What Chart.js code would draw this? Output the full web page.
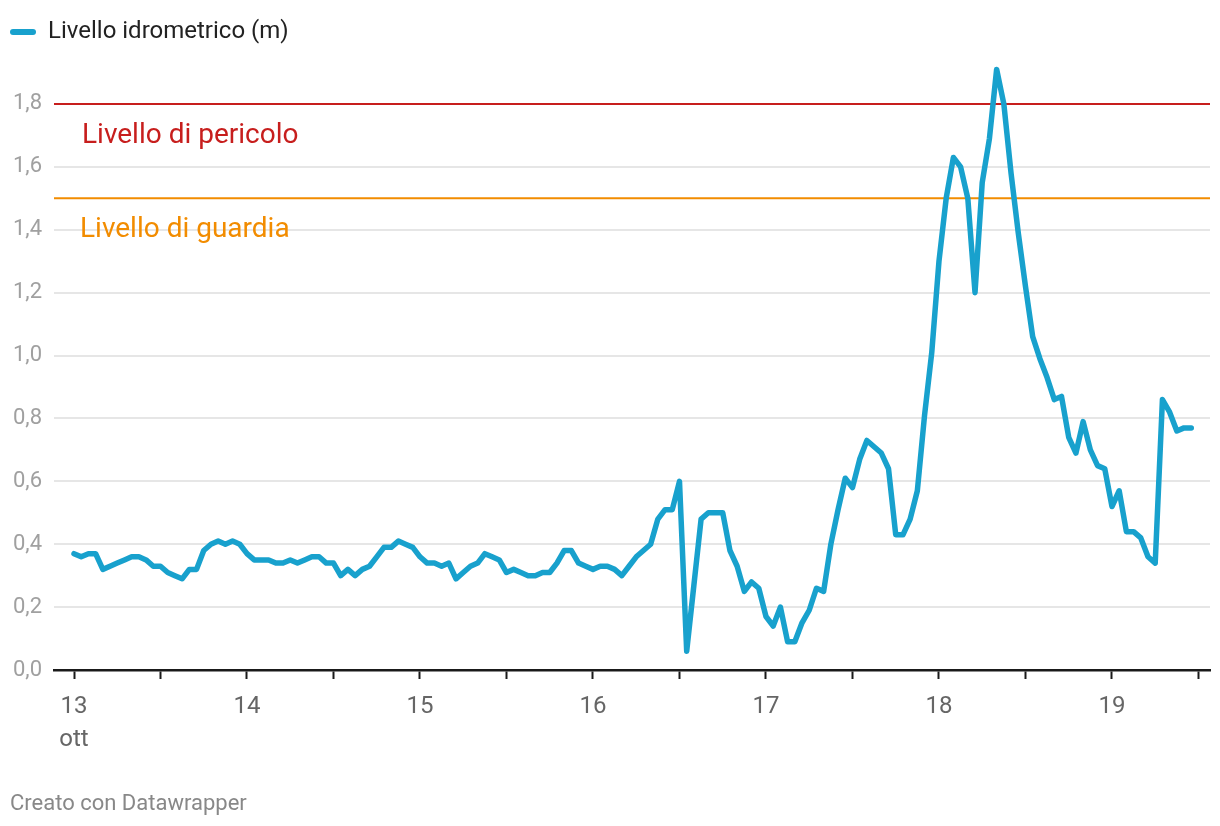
<!DOCTYPE html>
<html lang="it">
<head>
<meta charset="utf-8">
<script src="https://cdn.jsdelivr.net/npm/chart.js@4.4.1/dist/chart.umd.min.js"></script>
<style>
  html, body { margin: 0; padding: 0; background: #fff; }
  #wrap { position: relative; width: 1220px; height: 826px; }
  #footer { position: absolute; left: 10px; top: 790px; font: 22px Roboto, sans-serif; color: #888; }
</style>
</head>
<body>
<div id="wrap">
  <canvas id="levelChart" width="1220" height="826"></canvas>
  <div id="footer">Creato con Datawrapper</div>
</div>
<script>
// hourly readings from 13 ott 00:00
const levels = [
  0.37, 0.36, 0.37, 0.37, 0.32, 0.33, 0.34, 0.35, 0.36, 0.36,
  0.35, 0.33, 0.33, 0.31, 0.30, 0.29, 0.32, 0.32, 0.38, 0.40,
  0.41, 0.40, 0.41, 0.40, 0.37, 0.35, 0.35, 0.35, 0.34, 0.34,
  0.35, 0.34, 0.35, 0.36, 0.36, 0.34, 0.34, 0.30, 0.32, 0.30,
  0.32, 0.33, 0.36, 0.39, 0.39, 0.41, 0.40, 0.39, 0.36, 0.34,
  0.34, 0.33, 0.34, 0.29, 0.31, 0.33, 0.34, 0.37, 0.36, 0.35,
  0.31, 0.32, 0.31, 0.30, 0.30, 0.31, 0.31, 0.34, 0.38, 0.38,
  0.34, 0.33, 0.32, 0.33, 0.33, 0.32, 0.30, 0.33, 0.36, 0.38,
  0.40, 0.48, 0.51, 0.51, 0.60, 0.06, 0.27, 0.48, 0.50, 0.50,
  0.50, 0.38, 0.33, 0.25, 0.28, 0.26, 0.17, 0.14, 0.20, 0.09,
  0.09, 0.15, 0.19, 0.26, 0.25, 0.40, 0.51, 0.61, 0.58, 0.67,
  0.73, 0.71, 0.69, 0.64, 0.43, 0.43, 0.48, 0.57, 0.81, 1.01,
  1.30, 1.50, 1.63, 1.60, 1.50, 1.20, 1.55, 1.69, 1.91, 1.80,
  1.58, 1.39, 1.22, 1.06, 0.99, 0.93, 0.86, 0.87, 0.74, 0.69,
  0.79, 0.70, 0.65, 0.64, 0.52, 0.57, 0.44, 0.44, 0.42, 0.36,
  0.34, 0.86, 0.82, 0.76, 0.77, 0.77
];
const hours = levels.map((v, i) => i);

const dayLabels = ['13', '14', '15', '16', '17', '18', '19'];
const monthLabel = 'ott';
const tickHours = [0, 12, 24, 36, 48, 60, 72, 84, 96, 108, 120, 132, 144, 156];
const yTicks = [0, 0.2, 0.4, 0.6, 0.8, 1.0, 1.2, 1.4, 1.6, 1.8];

const thresholdNames = ['Livello di pericolo', 'Livello di guardia'];
const thresholdValues = [1.8, 1.5];
const thresholdColors = ['#c71e1d', '#f28c00'];

const FONT = 'Roboto, sans-serif';

// draw the two threshold lines with their labels
const thresholdPlugin = {
    id: 'thresholds',
    beforeDatasetsDraw(chart) {
        const { ctx, chartArea, scales } = chart;
        ctx.save();
        thresholdValues.forEach((v, i) => {
            const y = scales.y.getPixelForValue(v);
            ctx.strokeStyle = thresholdColors[i];
            ctx.lineWidth = 2;
            ctx.beginPath();
            ctx.moveTo(chartArea.left, y);
            ctx.lineTo(chartArea.right, y);
            ctx.stroke();
            ctx.fillStyle = thresholdColors[i];
            ctx.font = '28px ' + FONT;
            ctx.textBaseline = 'middle';
            ctx.textAlign = 'left';
            ctx.fillText(thresholdNames[i], chartArea.left + 28 - i * 2, y + 32);
        });
        ctx.restore();
    }
};

const ctx = document.getElementById('levelChart').getContext('2d');
const levelChart = new Chart(ctx, {
    type: 'line',
    data: {
        datasets: [{
            label: 'Livello idrometrico (m)',
            data: hours.map((h, i) => ({ x: h, y: levels[i] })),
            borderColor: '#18a1cd',
            backgroundColor: '#18a1cd',
            borderWidth: 5.5,
            borderJoinStyle: 'round',
            borderCapStyle: 'round',
            pointRadius: 0,
            tension: 0
        }]
    },
    options: {
        responsive: false,
        animation: false,
        layout: { padding: { top: 10, left: 0, right: 10, bottom: 56 } },
        plugins: {
            legend: {
                position: 'top',
                align: 'start',
                labels: {
                    font: { family: FONT, size: 24 },
                    color: '#222',
                    boxWidth: 26,
                    boxHeight: 6,
                    useBorderRadius: true,
                    borderRadius: 3,
                    padding: 10,
                    generateLabels: (chart) =>
                        Chart.defaults.plugins.legend.labels.generateLabels(chart)
                            .map(l => ({ ...l, lineWidth: 0 }))
                }
            },
            tooltip: { enabled: false }
        },
        scales: {
            x: {
                type: 'linear',
                min: -2.775,
                max: 157.6,
                afterBuildTicks: (axis) => { axis.ticks = tickHours.map(v => ({ value: v })); },
                afterFit: (axis) => { axis.height = 100; },
                grid: {
                    drawOnChartArea: false,
                    drawTicks: true,
                    tickLength: 9,
                    tickColor: '#1a1a1a',
                    tickWidth: 2
                },
                border: { display: true, color: '#1a1a1a', width: 2.5 },
                ticks: {
                    autoSkip: false,
                    maxRotation: 0,
                    padding: 12,
                    color: '#666',
                    font: { family: FONT, size: 24, lineHeight: 1.35 },
                    callback: (value) => {
                        if (value % 24 !== 0) return '';
                        const label = dayLabels[value / 24];
                        return value === 0 ? [label, monthLabel] : label;
                    }
                }
            },
            y: {
                min: 0,
                max: 1.959,
                afterBuildTicks: (axis) => { axis.ticks = yTicks.map(v => ({ value: v })); },
                afterFit: (axis) => { axis.width = 54; },
                grid: {
                    drawTicks: false,
                    lineWidth: 2,
                    color: (c) => c.tick && c.tick.value === 0 ? 'rgba(0,0,0,0)' : '#e6e6e6'
                },
                border: { display: false },
                ticks: {
                    padding: 12,
                    color: '#a0a0a0',
                    font: { family: FONT, size: 22 },
                    callback: (value) => value.toFixed(1).replace('.', ',')
                }
            }
        }
    },
    plugins: [thresholdPlugin]
});
</script>
</body>
</html>
